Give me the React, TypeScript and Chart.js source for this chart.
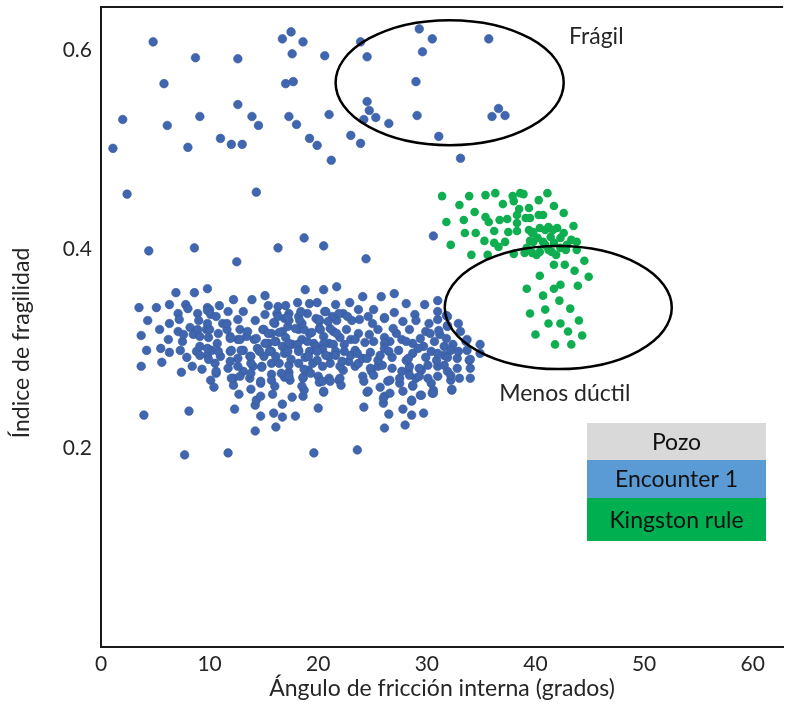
import { useEffect, useRef } from "react";
import { Chart, registerables } from "chart.js";

Chart.register(...registerables);

const FONT = "Lato, 'Open Sans', sans-serif";
const TEXT_COLOR = "#262626";
const AXIS_COLOR = "#1a1a1a";

const X_TITLE = "Ángulo de fricción interna (grados)";
const Y_TITLE = "Índice de fragilidad";
const X_TICKS = [0, 10, 20, 30, 40, 50, 60];
const Y_TICKS = [0.2, 0.4, 0.6];
const X_RANGE = [0, 62.8];
const Y_RANGE = [0, 0.643];

const LEGEND_HEADER = "Pozo";
const SERIES_NAMES = ["Encounter 1", "Kingston rule"];

// ellipses: [centerX, centerY, radiusX, radiusY]
const FRAGIL_ELLIPSE = [32.1, 0.567, 10.5, 0.0628];
const DUCTIL_ELLIPSE = [42.1, 0.341, 10.45, 0.0618];
// annotation labels: [text, x, y]
const LABELS: [string, number, number][] = [
  ["Frágil", 45.6, 0.613],
  ["Menos dúctil", 42.7, 0.255],
];

// Encounter 1 — scattered upper points
const blueUpper = [
  [4.8, 0.608], [8.7, 0.592], [12.6, 0.591], [16.7, 0.611], [17.5, 0.618], [18.6, 0.608], [17.6, 0.596], [20.6, 0.594],
  [23.9, 0.608], [24.5, 0.593], [29.3, 0.621], [30.5, 0.611], [29.6, 0.598], [35.7, 0.611], [5.8, 0.566], [17.0, 0.566],
  [17.7, 0.568], [29.0, 0.568], [12.6, 0.545], [24.5, 0.548], [2.0, 0.530], [6.1, 0.524], [9.1, 0.533], [13.9, 0.533],
  [14.5, 0.524], [17.3, 0.533], [18.0, 0.525], [21.0, 0.535], [24.7, 0.539], [24.2, 0.530], [25.3, 0.532], [26.5, 0.526],
  [29.1, 0.534], [36.0, 0.533], [36.6, 0.541], [37.2, 0.534], [1.1, 0.501], [8.0, 0.502], [11.0, 0.511], [12.0, 0.505],
  [13.0, 0.505], [19.2, 0.511], [19.9, 0.504], [21.2, 0.489], [23.0, 0.514], [23.9, 0.506], [31.1, 0.513], [33.1, 0.491],
  [2.4, 0.455], [14.3, 0.457], [30.6, 0.413], [4.4, 0.398], [8.6, 0.401], [12.5, 0.387], [16.3, 0.401], [18.7, 0.411],
  [20.5, 0.403], [24.4, 0.390],
];

// Encounter 1 — lower outliers
const blueLower = [
  [3.95, 0.233], [8.1, 0.237], [7.7, 0.193], [11.7, 0.195], [19.6, 0.195], [23.6, 0.198], [12.3, 0.239], [14.2, 0.217],
  [16.1, 0.221], [16.7, 0.231], [17.9, 0.232], [15.9, 0.235], [14.7, 0.232], [20.0, 0.240], [24.2, 0.241], [26.1, 0.220],
  [26.5, 0.234], [26.0, 0.245], [24.5, 0.256], [20.5, 0.256], [17.6, 0.251], [16.7, 0.244], [14.2, 0.243], [12.7, 0.254],
  [28.0, 0.223], [28.6, 0.233], [29.7, 0.235], [27.8, 0.239], [28.6, 0.247], [29.4, 0.253], [30.5, 0.255], [32.3, 0.258],
  [28.7, 0.262], [13.8, 0.259], [14.3, 0.248], [14.7, 0.252], [15.8, 0.254], [18.6, 0.252], [18.7, 0.258],
];

// Encounter 1 — main cluster, upper band
const blueClusterTop = [
  [3.5, 0.341], [5.1, 0.341], [6.3, 0.344], [6.9, 0.356], [8.6, 0.356], [9.8, 0.360], [7.8, 0.344], [8.0, 0.340],
  [9.8, 0.341], [10.9, 0.343], [12.2, 0.349], [13.9, 0.349], [15.1, 0.353], [15.4, 0.343], [16.3, 0.342], [17.0, 0.343],
  [18.1, 0.346], [18.8, 0.359], [19.2, 0.345], [19.9, 0.346], [20.5, 0.359], [21.7, 0.362], [21.6, 0.344], [22.9, 0.346],
  [24.1, 0.352], [25.1, 0.339], [25.8, 0.352], [27.0, 0.355], [28.1, 0.345], [29.8, 0.344], [31.0, 0.348], [23.7, 0.339],
  [20.6, 0.337], [10.0, 0.339],
  [4.3, 0.328], [7.1, 0.335], [7.2, 0.329], [8.9, 0.335], [9.0, 0.328], [9.8, 0.338], [10.1, 0.334], [10.6, 0.332],
  [11.2, 0.325], [11.7, 0.337], [12.6, 0.329], [13.1, 0.337], [14.2, 0.328], [15.1, 0.334], [16.0, 0.325], [16.9, 0.330],
  [17.3, 0.328], [18.2, 0.332], [19.0, 0.335], [19.8, 0.330], [20.7, 0.337], [21.7, 0.328], [22.3, 0.335], [23.1, 0.328],
  [23.8, 0.329], [24.6, 0.332], [25.0, 0.325], [26.1, 0.330], [27.0, 0.336], [27.8, 0.327], [28.9, 0.334], [29.0, 0.328],
  [30.2, 0.325], [31.0, 0.329], [31.8, 0.333], [32.9, 0.325], [16.2, 0.335], [18.4, 0.337], [20.1, 0.327], [21.3, 0.332],
  [17.3, 0.335], [18.5, 0.325], [15.9, 0.326], [16.3, 0.332], [17.2, 0.331], [18.3, 0.328], [20.1, 0.329], [20.9, 0.327],
  [21.9, 0.335], [22.7, 0.332], [6.3, 0.325], [9.8, 0.325], [11.6, 0.325], [26.1, 0.331], [31.9, 0.332], [31.0, 0.337],
];

// Encounter 1 — main cluster, middle band
const blueClusterMid = [
  [3.7, 0.313], [5.4, 0.319], [6.2, 0.309], [7.1, 0.317], [7.5, 0.307], [8.2, 0.321], [8.5, 0.314], [8.9, 0.319],
  [9.7, 0.319], [9.9, 0.311], [10.8, 0.315], [10.7, 0.305], [11.6, 0.319], [11.9, 0.312], [12.8, 0.319], [12.6, 0.309],
  [13.4, 0.312], [14.1, 0.309], [14.9, 0.319], [15.4, 0.305], [15.7, 0.315], [16.1, 0.307], [16.7, 0.317], [17.0, 0.311],
  [17.6, 0.304], [18.2, 0.319], [18.5, 0.309], [19.2, 0.315], [19.6, 0.305], [20.1, 0.320], [20.5, 0.312], [21.0, 0.305],
  [21.4, 0.317], [22.0, 0.311], [22.6, 0.319], [23.0, 0.309], [23.7, 0.315], [24.3, 0.306], [24.7, 0.314], [25.5, 0.319],
  [26.1, 0.311], [26.6, 0.307], [27.2, 0.315], [27.7, 0.309], [28.4, 0.319], [28.7, 0.305], [29.4, 0.310], [29.9, 0.317],
  [30.7, 0.307], [31.2, 0.314], [31.8, 0.310], [32.4, 0.304], [33.1, 0.317], [33.7, 0.309], [34.9, 0.304], [33.6, 0.307],
  [13.5, 0.317], [15.0, 0.319], [15.4, 0.315], [16.4, 0.316], [17.2, 0.322], [17.9, 0.320], [18.7, 0.319], [19.4, 0.316],
  [20.2, 0.319], [21.1, 0.320], [21.7, 0.315], [11.9, 0.310], [12.8, 0.309], [14.3, 0.310], [15.1, 0.305], [16.0, 0.307],
  [16.7, 0.302], [17.3, 0.305], [18.1, 0.304], [19.0, 0.307], [19.8, 0.302], [20.5, 0.305], [21.4, 0.304], [22.4, 0.304],
  [7.6, 0.314], [9.1, 0.312], [10.0, 0.319], [26.9, 0.320], [30.3, 0.315], [31.1, 0.318], [31.9, 0.323], [23.4, 0.309],
  [25.1, 0.307], [26.1, 0.305], [28.1, 0.307], [29.7, 0.302], [31.6, 0.302], [31.9, 0.322],
  [4.2, 0.298], [5.5, 0.300], [6.3, 0.296], [7.3, 0.298], [7.9, 0.291], [8.8, 0.297], [9.1, 0.302], [9.8, 0.293],
  [10.2, 0.298], [11.0, 0.292], [11.9, 0.297], [12.6, 0.290], [13.1, 0.298], [13.7, 0.292], [14.4, 0.300], [15.0, 0.292],
  [15.7, 0.297], [16.4, 0.285], [16.9, 0.295], [17.5, 0.289], [18.2, 0.298], [18.8, 0.291], [19.2, 0.297], [19.9, 0.288],
  [20.4, 0.299], [21.0, 0.292], [21.6, 0.297], [22.2, 0.287], [23.0, 0.293], [23.4, 0.298], [24.1, 0.290], [24.8, 0.296],
  [25.5, 0.288], [26.1, 0.300], [26.8, 0.291], [27.4, 0.298], [28.1, 0.288], [28.7, 0.295], [29.2, 0.300], [29.9, 0.291],
  [30.4, 0.297], [30.9, 0.288], [31.6, 0.293], [32.2, 0.298], [32.8, 0.290], [33.7, 0.298], [34.0, 0.289], [31.6, 0.283],
  [34.9, 0.295], [12.0, 0.298], [12.9, 0.298], [13.8, 0.292], [14.6, 0.297], [15.5, 0.297], [16.1, 0.292], [17.2, 0.297],
  [18.2, 0.297], [19.1, 0.292], [19.9, 0.297], [20.7, 0.293], [21.6, 0.293], [22.4, 0.297], [9.8, 0.300], [10.8, 0.297],
  [9.1, 0.293], [9.9, 0.289], [23.6, 0.295], [24.5, 0.290], [25.7, 0.293], [26.5, 0.297], [28.3, 0.290], [31.0, 0.295],
  [31.9, 0.291], [32.9, 0.297],
];

// Encounter 1 — main cluster, lower band
const blueClusterLow = [
  [3.7, 0.282], [5.6, 0.286], [7.4, 0.276], [8.4, 0.282], [9.3, 0.279], [10.1, 0.268], [10.6, 0.275], [10.4, 0.261],
  [11.7, 0.280], [12.2, 0.270], [12.2, 0.263], [13.1, 0.277], [13.7, 0.270], [14.0, 0.282], [14.7, 0.265], [14.8, 0.282],
  [15.7, 0.274], [16.0, 0.262], [16.9, 0.271], [17.3, 0.276], [17.4, 0.268], [18.6, 0.271], [18.5, 0.262], [19.1, 0.278],
  [20.0, 0.272], [20.4, 0.282], [21.0, 0.270], [21.9, 0.268], [22.1, 0.263], [22.3, 0.278], [23.4, 0.282], [24.1, 0.272],
  [24.2, 0.267], [24.9, 0.277], [25.5, 0.282], [25.7, 0.261], [26.4, 0.267], [26.8, 0.280], [27.5, 0.265], [28.3, 0.278],
  [28.7, 0.263], [29.0, 0.270], [29.5, 0.278], [30.4, 0.265], [31.0, 0.272], [31.9, 0.277], [32.2, 0.268], [33.0, 0.270],
  [34.0, 0.270], [34.0, 0.280], [32.3, 0.259], [30.6, 0.258], [29.5, 0.253], [27.8, 0.257], [26.1, 0.252], [24.6, 0.257],
  [20.5, 0.257], [20.1, 0.266], [11.9, 0.287], [12.6, 0.282], [13.8, 0.285], [14.8, 0.281], [15.7, 0.285], [17.3, 0.283],
  [18.2, 0.285], [18.7, 0.279], [19.5, 0.285], [21.1, 0.285], [22.0, 0.282], [22.8, 0.287], [12.0, 0.270], [12.8, 0.272],
  [13.8, 0.275], [14.7, 0.267], [15.7, 0.268], [16.6, 0.275], [17.3, 0.272], [18.6, 0.270], [19.3, 0.275], [20.4, 0.267],
  [21.1, 0.267], [22.0, 0.270], [10.5, 0.285], [10.6, 0.277], [23.7, 0.285], [24.8, 0.280], [25.9, 0.283], [27.7, 0.277],
  [28.4, 0.282], [29.3, 0.280], [30.1, 0.283], [31.0, 0.282], [32.8, 0.280], [33.9, 0.288], [25.1, 0.273], [26.6, 0.268],
  [27.5, 0.270], [28.4, 0.273], [29.3, 0.272], [30.1, 0.270], [32.2, 0.273], [26.6, 0.255], [28.6, 0.248], [30.6, 0.255],
  [26.0, 0.250],
];

// Kingston rule
const greenPoints = [
  [31.4, 0.453], [33.0, 0.444], [33.9, 0.453], [35.4, 0.454], [36.3, 0.456], [37.0, 0.445], [37.9, 0.453], [38.0, 0.448],
  [38.6, 0.456], [38.9, 0.455], [39.4, 0.441], [40.3, 0.449], [41.1, 0.456], [41.7, 0.443], [42.6, 0.436], [31.8, 0.427],
  [33.4, 0.429], [34.4, 0.437], [35.4, 0.432], [35.7, 0.427], [36.7, 0.429], [37.4, 0.430], [38.3, 0.434], [38.5, 0.440],
  [39.1, 0.431], [39.5, 0.431], [40.3, 0.434], [40.7, 0.434], [33.5, 0.416], [34.5, 0.416], [36.2, 0.418], [37.5, 0.417],
  [38.3, 0.418], [39.4, 0.419], [39.7, 0.416], [40.4, 0.421], [41.2, 0.422], [42.0, 0.421], [43.5, 0.423], [32.2, 0.404],
  [35.3, 0.408], [36.2, 0.406], [36.6, 0.402], [37.2, 0.407], [39.5, 0.408], [40.2, 0.411], [40.7, 0.407], [41.4, 0.412],
  [41.7, 0.406], [42.3, 0.411], [42.9, 0.404], [43.8, 0.407], [34.1, 0.394], [35.6, 0.394], [38.0, 0.395], [39.0, 0.396],
  [39.7, 0.396], [40.4, 0.397], [41.2, 0.399], [41.5, 0.397], [42.8, 0.399], [43.8, 0.399], [41.7, 0.384], [42.7, 0.384],
  [43.6, 0.378], [44.5, 0.388], [44.9, 0.372], [40.4, 0.373], [41.7, 0.360], [42.3, 0.364], [43.9, 0.363], [39.2, 0.360],
  [40.7, 0.353], [42.2, 0.348], [43.2, 0.340], [39.5, 0.335], [40.9, 0.339], [41.2, 0.325], [42.3, 0.325], [44.0, 0.328],
  [43.0, 0.317], [44.3, 0.313], [40.0, 0.314], [41.8, 0.304], [43.3, 0.304], [39.8, 0.417], [40.9, 0.419], [41.6, 0.419],
  [39.8, 0.407], [40.9, 0.404], [42.3, 0.401], [39.2, 0.401], [40.1, 0.394], [41.9, 0.394], [38.3, 0.426], [42.6, 0.416],
  [43.3, 0.409],
];

const BLUE = "#3f66ae";
const BLUE_BORDER = "#35599c";
const GREEN = "#0fae50";
const LEGEND_COLORS = ["#d9d9d9", "#5b9bd5", "#00b050"];
const TEXT_SIZE = 23;
const TICK_SIZE = 21;

const toXY = (arr: number[][]) => arr.map(([x, y]) => ({ x, y }));

const overlayPlugin = {
  id: "overlay",
  afterDatasetsDraw(chart: any) {
    const { ctx, chartArea, scales } = chart;
    const xs = scales.x;
    const ys = scales.y;
    ctx.save();

    // top frame line
    ctx.strokeStyle = AXIS_COLOR;
    ctx.lineWidth = 2;
    ctx.beginPath();
    ctx.moveTo(chartArea.left - 1, chartArea.top);
    ctx.lineTo(chartArea.right, chartArea.top);
    ctx.stroke();

    // ellipses
    [FRAGIL_ELLIPSE, DUCTIL_ELLIPSE].forEach(([cx, cy, rx, ry]) => {
      const px = xs.getPixelForValue(cx);
      const py = ys.getPixelForValue(cy);
      const prx = Math.abs(xs.getPixelForValue(cx + rx) - px);
      const pry = Math.abs(ys.getPixelForValue(cy + ry) - py);
      ctx.beginPath();
      ctx.ellipse(px, py, prx, pry, 0, 0, Math.PI * 2);
      ctx.lineWidth = 2.5;
      ctx.strokeStyle = "#000";
      ctx.stroke();
    });

    // annotation labels
    ctx.fillStyle = TEXT_COLOR;
    ctx.font = `${TEXT_SIZE}px ${FONT}`;
    ctx.textAlign = "center";
    ctx.textBaseline = "middle";
    LABELS.forEach(([t, x, y]) => {
      ctx.fillText(t, xs.getPixelForValue(x), ys.getPixelForValue(y));
    });

    // legend table
    const rows = [LEGEND_HEADER, ...chart.data.datasets.map((d: any) => d.label)];
    const left = 587;
    const width = 179;
    const tops = [423, 460, 498, 541];
    rows.forEach((t: string, i: number) => {
      ctx.fillStyle = LEGEND_COLORS[i];
      ctx.fillRect(left, tops[i], width, tops[i + 1] - tops[i]);
      ctx.fillStyle = "#111";
      ctx.fillText(t, left + width / 2, (tops[i] + tops[i + 1]) / 2 + 1);
    });

    // y axis title
    ctx.save();
    ctx.translate(22, 343);
    ctx.rotate(-Math.PI / 2);
    ctx.fillStyle = TEXT_COLOR;
    ctx.fillText(Y_TITLE, 0, 0);
    ctx.restore();

    ctx.restore();
  },
};

export default function App() {
  const ref = useRef<HTMLCanvasElement | null>(null);

  useEffect(() => {
    document.body.style.margin = "0";
    const canvas = ref.current;
    if (!canvas) return;
    const chart = new Chart(canvas, {
      type: "scatter",
      data: {
        datasets: [
          {
            label: SERIES_NAMES[0],
            data: toXY([...blueUpper, ...blueLower, ...blueClusterLow, ...blueClusterMid, ...blueClusterTop]),
            backgroundColor: BLUE,
            borderColor: BLUE_BORDER,
            borderWidth: 0.6,
            pointRadius: 4.3,
          },
          {
            label: SERIES_NAMES[1],
            data: toXY(greenPoints),
            backgroundColor: GREEN,
            borderColor: GREEN,
            borderWidth: 0,
            pointRadius: 4.3,
          },
        ],
      },
      options: {
        responsive: false,
        animation: false,
        events: [],
        layout: { padding: { top: 7, right: 0, left: 0, bottom: 0 } },
        plugins: { legend: { display: false }, tooltip: { enabled: false } },
        scales: {
          x: {
            type: "linear",
            min: X_RANGE[0],
            max: X_RANGE[1],
            grid: { display: false, drawTicks: false },
            border: { display: true, color: AXIS_COLOR, width: 2 },
            afterBuildTicks: (s: any) => {
              s.ticks = X_TICKS.map((v) => ({ value: v }));
            },
            afterFit: (s: any) => {
              s.height = 57;
              s.paddingLeft = 0;
              s.paddingRight = 0;
            },
            ticks: {
              padding: 5,
              color: TEXT_COLOR,
              font: { family: FONT, size: TICK_SIZE },
              maxRotation: 0,
              autoSkip: false,
              callback: (v: any) => String(v),
            },
            title: {
              display: true,
              text: X_TITLE,
              color: TEXT_COLOR,
              font: { family: FONT, size: TEXT_SIZE },
              padding: { top: 0, bottom: 2 },
            },
          },
          y: {
            type: "linear",
            min: Y_RANGE[0],
            max: Y_RANGE[1],
            grid: { display: false, drawTicks: false },
            border: { display: true, color: AXIS_COLOR, width: 2 },
            afterBuildTicks: (s: any) => {
              s.ticks = Y_TICKS.map((v) => ({ value: v }));
            },
            afterFit: (s: any) => {
              s.width = 101;
              s.paddingTop = 0;
              s.paddingBottom = 0;
            },
            ticks: {
              padding: 9,
              color: TEXT_COLOR,
              font: { family: FONT, size: TICK_SIZE },
              autoSkip: false,
              callback: (v: any) => Number(v).toFixed(1),
            },
          },
        },
      },
      plugins: [overlayPlugin],
    });
    return () => chart.destroy();
  }, []);

  return (
    <div style={{ width: 788, height: 704, background: "#fff" }}>
      <canvas ref={ref} width={788} height={704} style={{ display: "block" }} />
    </div>
  );
}
